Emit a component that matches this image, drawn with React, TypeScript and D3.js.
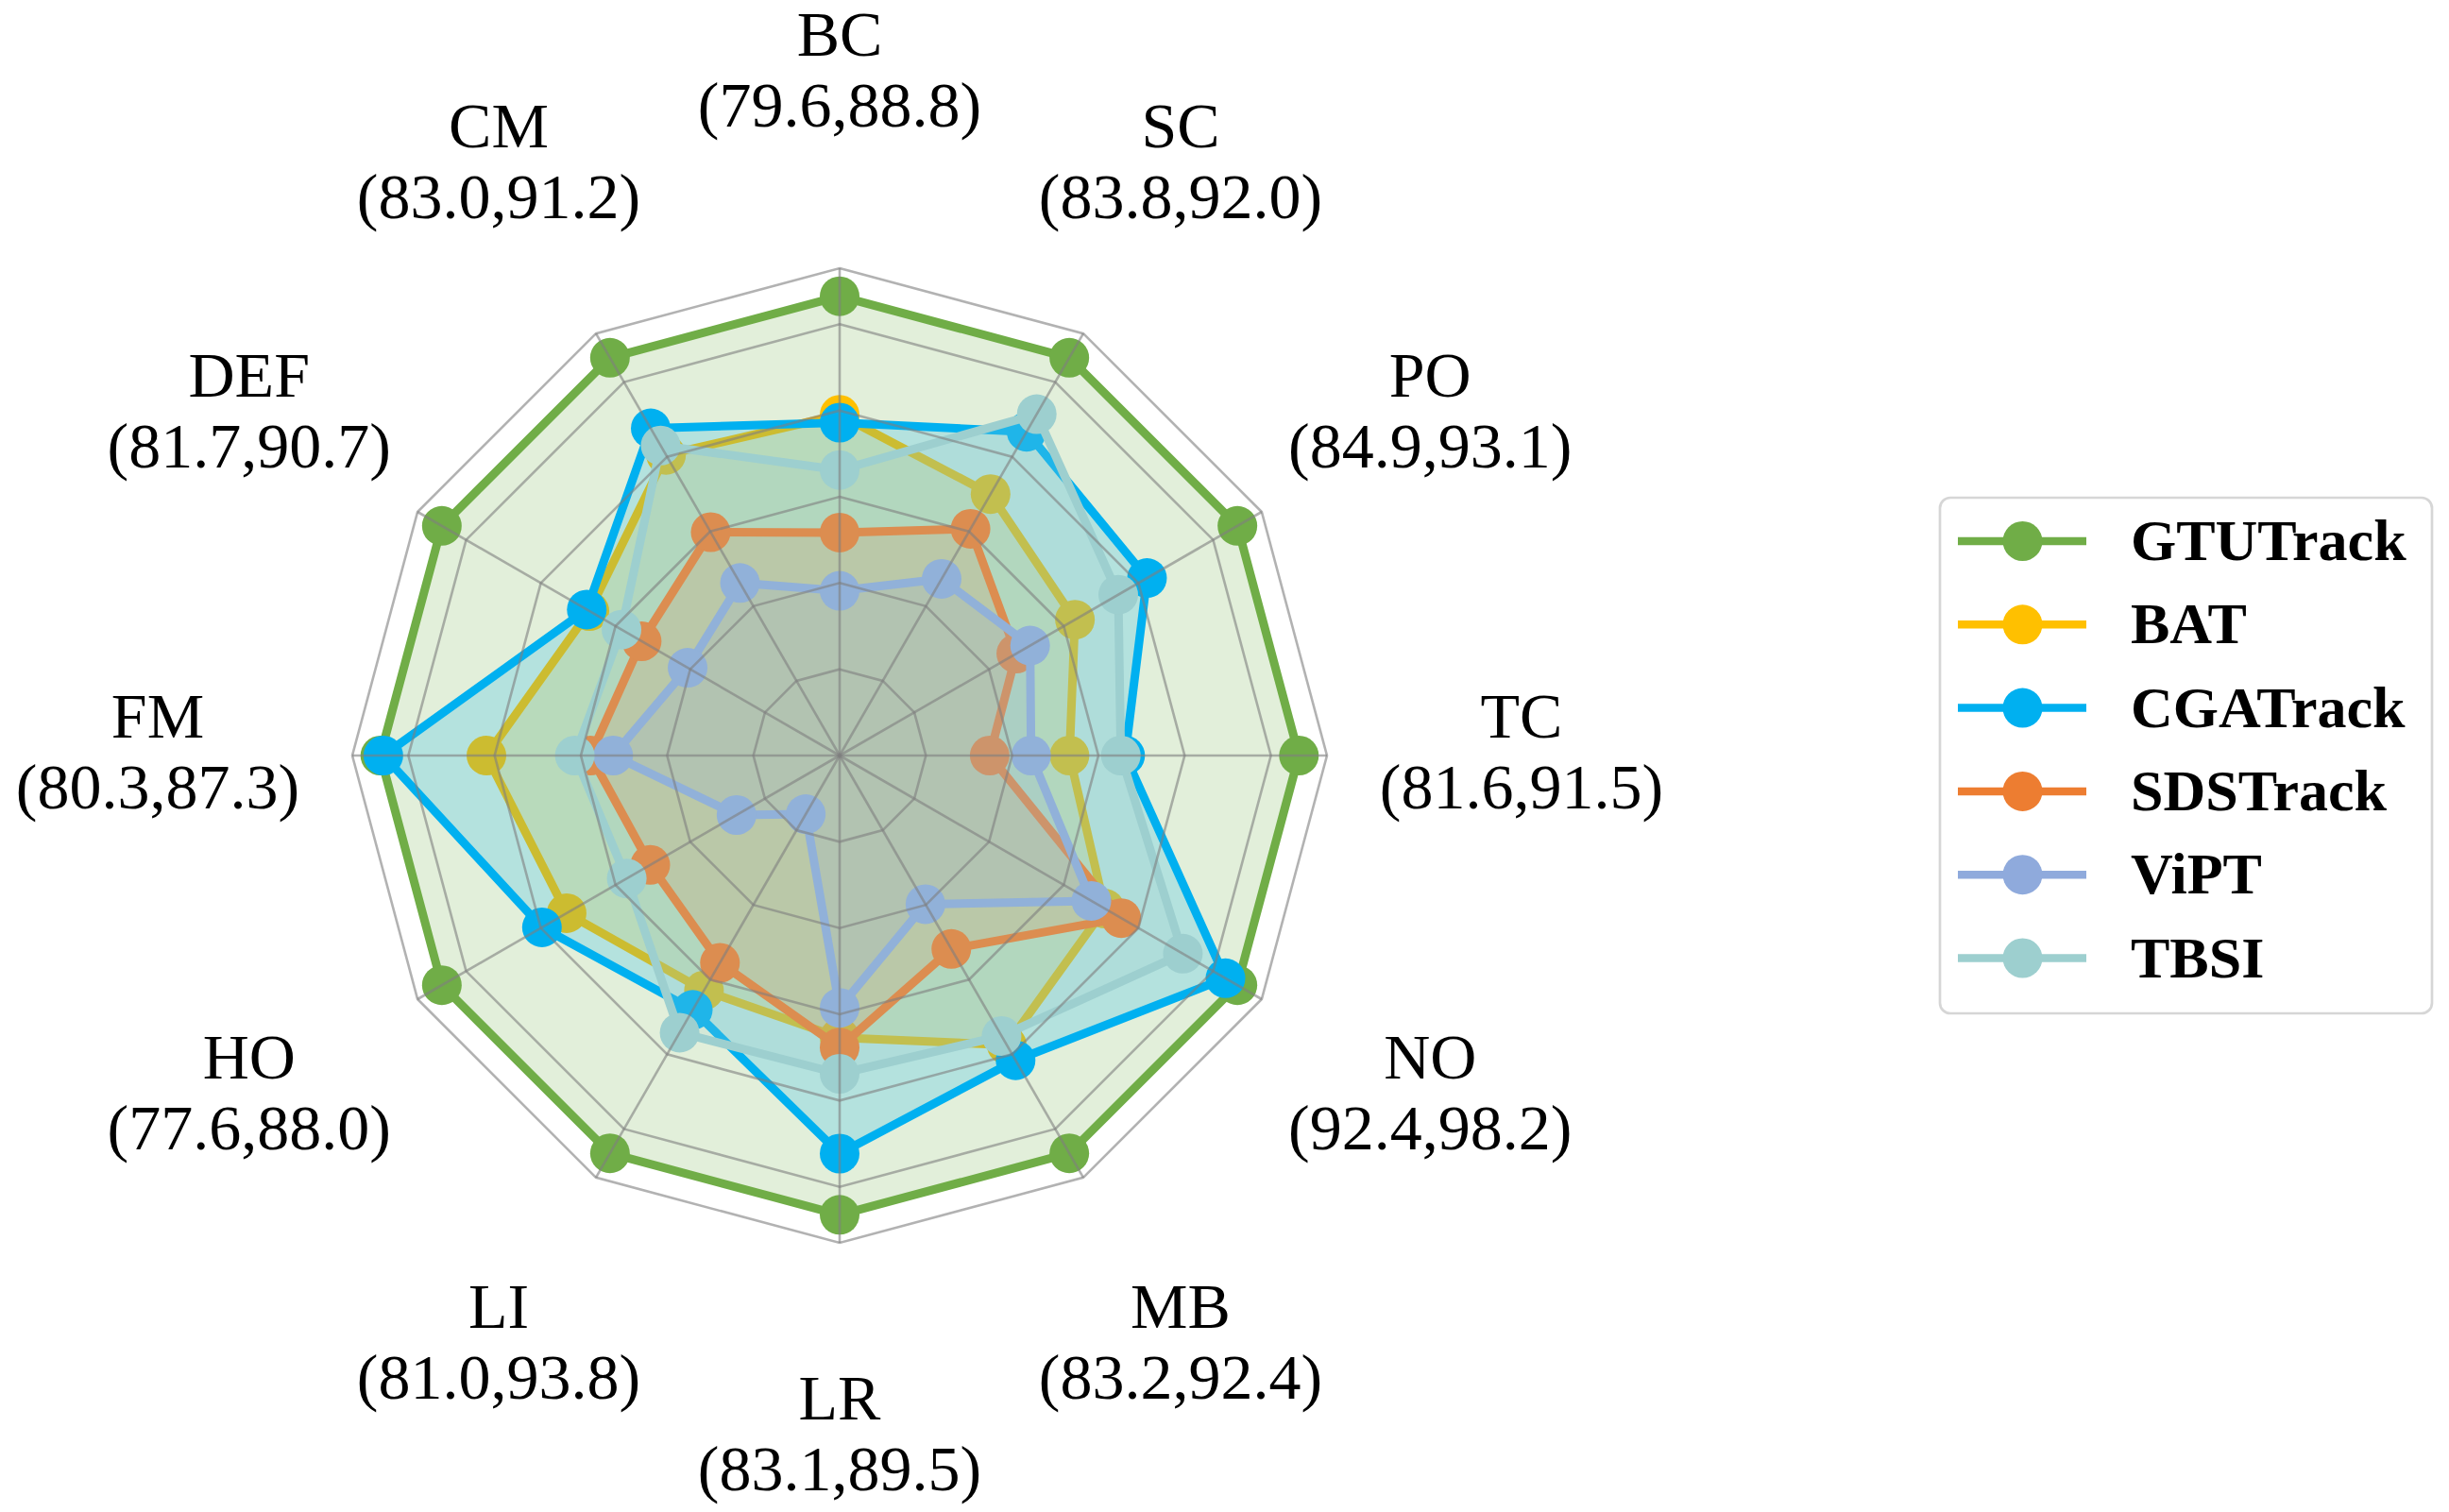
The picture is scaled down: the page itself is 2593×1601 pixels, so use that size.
import React from 'react';
import * as d3 from 'd3';

// Attributes (axes) clockwise from the top, with their (min,max) range labels
const categories = ['BC', 'SC', 'PO', 'TC', 'NO', 'MB', 'LR', 'LI', 'HO', 'FM', 'DEF', 'CM'];
const rangeLabels = [
  '(79.6,88.8)', '(83.8,92.0)', '(84.9,93.1)', '(81.6,91.5)', '(92.4,98.2)', '(83.2,92.4)',
  '(83.1,89.5)', '(81.0,93.8)', '(77.6,88.0)', '(80.3,87.3)', '(81.7,90.7)', '(83.0,91.2)',
];

// Series (normalised radial scores)
const seriesNames = ['GTUTrack', 'BAT', 'CGATrack', 'SDSTrack', 'ViPT', 'TBSI'];
const seriesColors = ['#70AD47', '#FFC000', '#00B0F0', '#ED7D31', '#8FAADC', '#9DCFCF'];
const gtuTrack = [1.065, 1.065, 1.065, 1.065, 1.065, 1.065, 1.065, 1.065, 1.065, 1.065, 1.065, 1.065];
const bat = [0.79, 0.70, 0.63, 0.533, 0.71, 0.775, 0.654, 0.629, 0.731, 0.819, 0.67, 0.805];
const cgaTrack = [0.772, 0.867, 0.823, 0.662, 1.033, 0.816, 0.923, 0.681, 0.797, 1.058, 0.677, 0.876];
const sdsTrack = [0.517, 0.607, 0.473, 0.348, 0.754, 0.518, 0.677, 0.555, 0.507, 0.578, 0.53, 0.598];
const vipt = [0.382, 0.473, 0.51, 0.444, 0.674, 0.398, 0.585, 0.157, 0.276, 0.525, 0.407, 0.462];
const tbsi = [0.662, 0.914, 0.746, 0.652, 0.919, 0.751, 0.738, 0.742, 0.57, 0.614, 0.584, 0.83];
const seriesValues = [gtuTrack, bat, cgaTrack, sdsTrack, vipt, tbsi];

const gridLevels = [0.2, 0.4, 0.6, 0.8, 1.0];
const radialMax = 1.13;

export default function App() {
  const W = 2593;
  const H = 1601;
  const cx = 889;
  const cy = 800;
  const R = 516;
  const labelR = 722;

  const n = categories.length;
  const angle = d3.scaleLinear().domain([0, n]).range([0, 2 * Math.PI]);
  const rScale = d3.scaleLinear().domain([0, radialMax]).range([0, R]);

  const radial = d3
    .lineRadial<number>()
    .angle((_, i) => angle(i))
    .radius((d) => rScale(d))
    .curve(d3.curveLinearClosed);

  const pt = (i: number, v: number) => {
    const a = angle(i);
    const r = rScale(v);
    return [r * Math.sin(a), -r * Math.cos(a)];
  };

  const ringVals = [...gridLevels, radialMax];
  const serif = '"Liberation Serif", "Times New Roman", Times, serif';

  const legendX = 2054;
  const legendY = 527;
  const legendW = 521;
  const legendH = 546;
  const rowY = (i: number) => 573 + i * 88.3;

  return (
    <svg
      width={W}
      height={H}
      viewBox={`0 0 ${W} ${H}`}
      style={{ position: 'absolute', left: 0, top: 0, background: '#fff' }}
    >
      <rect x={0} y={0} width={W} height={H} fill="#fff" />
      <g transform={`translate(${cx},${cy})`}>
        {seriesValues.map((vals, si) => (
          <g key={seriesNames[si]}>
            <path d={radial(vals) || ''} fill={seriesColors[si]} fillOpacity={0.2} stroke="none" />
            <path
              d={radial(vals) || ''}
              fill="none"
              stroke={seriesColors[si]}
              strokeWidth={9}
              strokeLinejoin="round"
            />
            {vals.map((v, i) => {
              const [x, y] = pt(i, v);
              return <circle key={i} cx={x} cy={y} r={21} fill={seriesColors[si]} />;
            })}
          </g>
        ))}
        {/* grid on top */}
        <g stroke="#7f7f7f" strokeOpacity={0.6} strokeWidth={2.6} fill="none">
          {ringVals.map((lv) => (
            <path key={lv} d={radial(categories.map(() => lv)) || ''} />
          ))}
          {categories.map((c, i) => {
            const [x, y] = pt(i, radialMax);
            return <line key={c} x1={0} y1={0} x2={x} y2={y} />;
          })}
        </g>
        {categories.map((c, i) => {
          const a = angle(i);
          const lx = labelR * Math.sin(a);
          const ly = -labelR * Math.cos(a);
          return (
            <text key={c} fontFamily={serif} fontSize={68} textAnchor="middle" fill="#000">
              <tspan x={lx} y={ly - 19}>{c}</tspan>
              <tspan x={lx} y={ly + 56}>{rangeLabels[i]}</tspan>
            </text>
          );
        })}
      </g>
      {/* legend */}
      <rect
        x={legendX}
        y={legendY}
        width={legendW}
        height={legendH}
        rx={11}
        ry={11}
        fill="#fff"
        stroke="#d6d6d6"
        strokeWidth={2.7}
      />
      {seriesNames.map((name, i) => (
        <g key={name}>
          <line x1={2073} x2={2209} y1={rowY(i)} y2={rowY(i)} stroke={seriesColors[i]} strokeWidth={8.5} />
          <circle cx={2141.5} cy={rowY(i)} r={21} fill={seriesColors[i]} />
          <text x={2256} y={rowY(i) + 20} fontFamily={serif} fontWeight="bold" fontSize={62} fill="#000">
            {name}
          </text>
        </g>
      ))}
    </svg>
  );
}
